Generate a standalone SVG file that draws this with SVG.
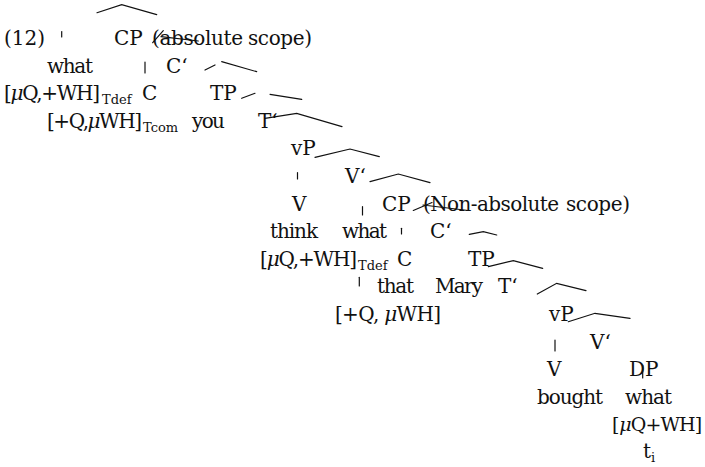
<svg xmlns="http://www.w3.org/2000/svg" width="705" height="467" viewBox="0 0 705 467">
  <style>
    text { font-family: "DejaVu Serif", "Liberation Serif", serif; font-size: 20px; fill: #111; }
    .sub { font-size: 13px; }
    .mu { font-style: italic; }
    .tight { font-size: 19px; letter-spacing: -0.9px; }
    .br { fill: none; stroke: #111; stroke-width: 1.2; stroke-linecap: round; stroke-linejoin: miter; }
  </style>
  <rect width="705" height="467" fill="#fff"/>

  <!-- tree branches -->
  <g id="connectors" class="br">
    <path d="M97,12.7 L121.7,4.7 L156.7,14.7"/>
    <path d="M61.7,31.5 V37"/>
    <path d="M152.7,42.7 L163.3,30.7 M161,36.7 L198.3,41"/>
    <path d="M145,62 V73"/>
    <path d="M205,70 L215,65 M221.7,61.7 L256.7,71.7"/>
    <path d="M241.7,98.3 L255,93.3 M270,94.3 L301.7,99.3"/>
    <path d="M265,118.3 L296.7,113.3 L342,126.7"/>
    <path d="M315,157.3 L350,149 L379.3,156.7"/>
    <path d="M297.5,172.7 V179"/>
    <path d="M370,181.7 L398.3,174 L430,182.7"/>
    <path d="M362.5,206.7 V215"/>
    <path d="M413.3,210.5 L432,202.5 M423,205 L468.3,210.5"/>
    <path d="M401.5,228.3 V234"/>
    <path d="M469.3,234.3 L483.3,231.7 L496.7,235"/>
    <path d="M488.3,266.7 L513.3,260.7 L542.7,268.3"/>
    <path d="M359.3,277.3 V286"/>
    <path d="M537.3,294 L556.7,283.3 L586,290.7"/>
    <path d="M568.3,321.7 L595,313.3 L630,318.3"/>
    <path d="M555,340 V351"/>
    <path d="M642.7,365.5 V378"/>
  </g>

  <g id="label-12"><text x="4" y="45" textLength="41">(12)</text></g>
  <g id="cp-top"><text x="114" y="45">CP</text><text x="152" y="45" textLength="91">(absolute</text><text x="248" y="45" textLength="64">scope)</text></g>
  <g id="what-1"><text x="47" y="72.6" textLength="46">what</text></g>
  <g id="cbar-1"><text x="166" y="72.6">C‘</text></g>
  <g id="feat-1"><text x="4" y="100.2" textLength="96">[<tspan class="mu">μ</tspan>Q,+WH]</text><text class="sub" x="102" y="104.2">Tdef</text></g>
  <g id="c-1"><text x="142" y="100.2">C</text></g>
  <g id="tp-1"><text x="210" y="100.2">TP</text></g>
  <g id="feat-2"><text x="47" y="127.8" textLength="95">[+Q,<tspan class="mu">μ</tspan>WH]</text><text class="sub" x="143" y="131.8">Tcom</text></g>
  <g id="you"><text x="192" y="127.8" textLength="33">you</text></g>
  <g id="tbar-1"><text x="258" y="127.8">T‘</text></g>
  <g id="vp-1"><text x="291" y="155.4">vP</text></g>
  <g id="vbar-1"><text x="345" y="183">V‘</text></g>
  <g id="v-1"><text x="292" y="210.6">V</text></g>
  <g id="cp-embedded"><text x="382" y="210.6">CP</text><text x="423" y="210.6" textLength="136">(Non-absolute</text><text x="566" y="210.6" textLength="64">scope)</text></g>
  <g id="think"><text x="270" y="238.2" textLength="48">think</text></g>
  <g id="what-2"><text x="342" y="238.2" textLength="45">what</text></g>
  <g id="cbar-2"><text x="430" y="238.2">C‘</text></g>
  <g id="feat-3"><text x="260" y="265.8" textLength="97">[<tspan class="mu">μ</tspan>Q,+WH]</text><text class="sub" x="358" y="269.8">Tdef</text></g>
  <g id="c-2"><text x="397" y="265.8">C</text></g>
  <g id="tp-2"><text x="468" y="265.8">TP</text></g>
  <g id="that"><text x="377" y="293.4" textLength="37">that</text></g>
  <g id="mary"><text x="435" y="293.4" textLength="48">Mary</text></g>
  <g id="tbar-2"><text x="498" y="293.4">T‘</text></g>
  <g id="feat-4"><text x="335" y="321" textLength="106">[+Q, <tspan class="mu">μ</tspan>WH]</text></g>
  <g id="vp-2"><text x="549" y="321">vP</text></g>
  <g id="vbar-2"><text x="590" y="348.6">V‘</text></g>
  <g id="v-2"><text x="547" y="376.2">V</text></g>
  <g id="dp"><text x="629" y="376.2">DP</text></g>
  <g id="bought"><text x="537" y="403.8" textLength="66">bought</text></g>
  <g id="what-3"><text x="625" y="403.8" textLength="47">what</text></g>
  <g id="feat-5"><text class="tight" x="612" y="431.4">[<tspan class="mu" dx="0.8">μ</tspan>Q+WH]</text></g>
  <g id="trace"><text x="643" y="458">t<tspan class="sub" dy="4">i</tspan></text></g>
</svg>
